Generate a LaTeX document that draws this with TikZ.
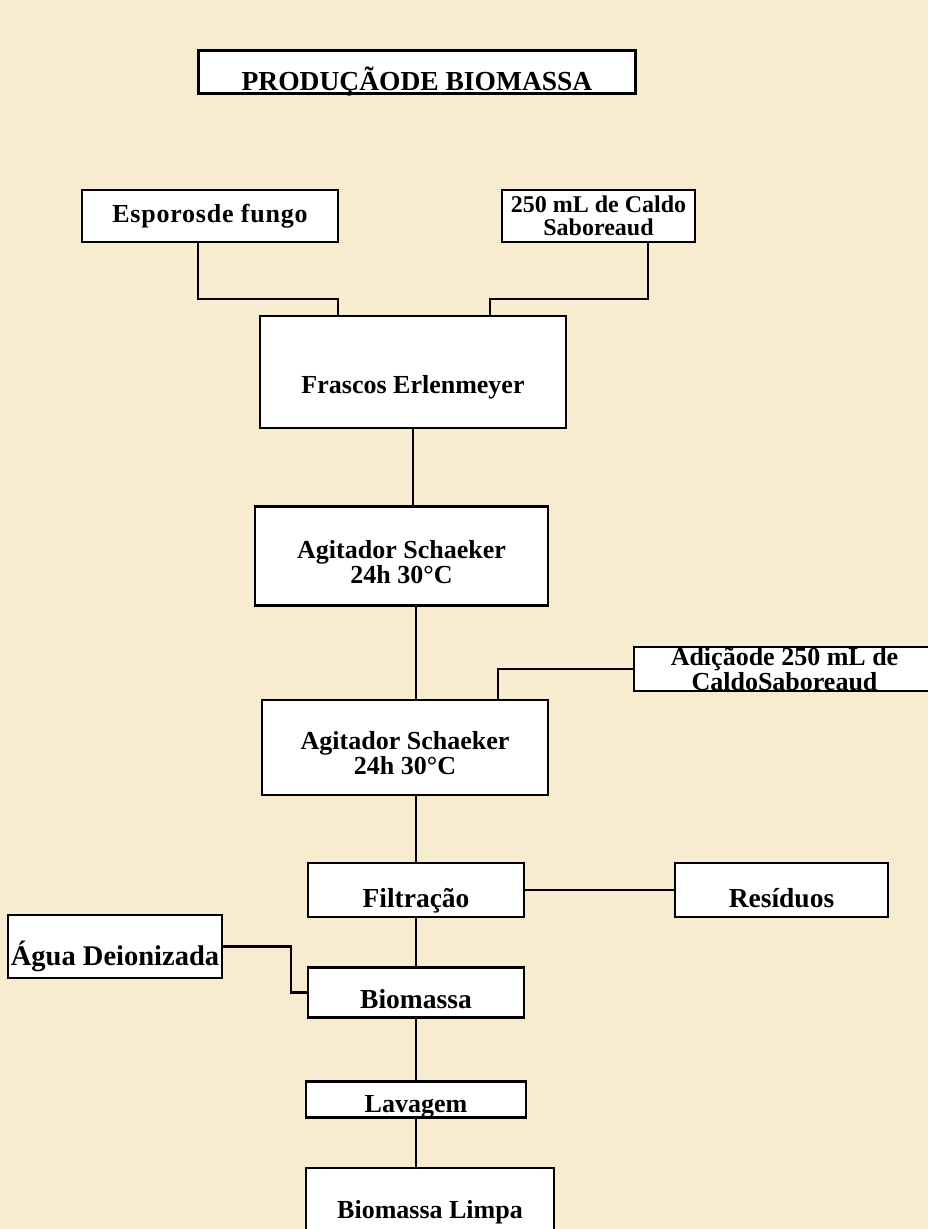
\documentclass[tikz,border=0pt]{standalone}
\usepackage{fontspec}
\setmainfont{Liberation Serif}
\usetikzlibrary{positioning,calc}
\definecolor{parch}{HTML}{F7EBD0}

\begin{document}
\begin{tikzpicture}[x=1pt,y=-1pt,
  box/.style={draw, line width=2.2pt, fill=white, inner sep=0pt, align=center,
    font=\fontsize{26}{25}\selectfont\bfseries},
  big/.style={font=\fontsize{27.5}{26}\selectfont\bfseries},
  drop/.style={text height=#1, text depth=0pt},
  link/.style={line width=2.2pt}
]
  \useasboundingbox (0,0) rectangle (928,1229);
  \fill[parch] (0,0) rectangle (928,1229);

  % title
  \node[box, big, drop=36pt, minimum width=437, minimum height=43] (tit) at (417,72) {PRODUÇÃODE BIOMASSA};

  % inputs
  \node[box, font=\fontsize{26}{25}\selectfont\bfseries\addfontfeature{LetterSpace=3},
    minimum width=256, minimum height=52] (esp) at (210,216) {Esporosde fungo};
  \node[box, font=\fontsize{24}{23}\selectfont\bfseries, minimum width=193, minimum height=52] (cal) at (598.5,216) {250 mL de Caldo\\Saboreaud};

  % main line
  \node[box, drop=43pt, minimum width=306, minimum height=112] (fra) at (413,372) {Frascos Erlenmeyer};
  \node[box, minimum width=293, minimum height=99] (ag1) at (401.5,556) {\rule{0pt}{30pt}Agitador Schaeker\\24h 30°C};
  \node[box, minimum width=286, minimum height=95] (ag2) at (405,747.5) {\rule{0pt}{30pt}Agitador Schaeker\\24h 30°C};
  \node[box, minimum width=301, minimum height=42] (add) at (784.5,669) {Adiçãode 250 mL de\\CaldoSaboreaud};
  \node[box, big, drop=34pt, minimum width=216, minimum height=54] (fil) at (416,890) {Filtração};
  \node[box, big, drop=34pt, minimum width=213, minimum height=54] (res) at (781.5,890) {Resíduos};
  \node[box, font=\fontsize{28.5}{27}\selectfont\bfseries, drop=37pt, minimum width=214, minimum height=63] (agua) at (115,946.5) {Água Deionizada};
  \node[box, big, drop=31pt, minimum width=216, minimum height=50] (bio) at (416,992.5) {Biomassa};
  \node[box, drop=26pt, minimum width=220, minimum height=36] (lav) at (416,1099.5) {Lavagem};
  \node[box, drop=27pt, minimum width=248, minimum height=74] (lim) at (430,1205) {Biomassa Limpa};

  % connectors
  \draw[link] ([xshift=-12pt]esp.south) -- ++(0,56) -| ([xshift=-75pt]fra.north);
  \draw[link] ([xshift=49.5pt]cal.south) -- ++(0,56) -| ([xshift=77pt]fra.north);
  \draw[link] (fra.south) -- (fra.south |- ag1.north);
  \draw[link] (ag1.south -| fil) -- (ag2.north -| fil);
  \draw[link] (add.west) -| ([xshift=93pt]ag2.north);
  \draw[link] (ag2.south -| fil) -- (fil.north);
  \draw[link] (fil.east) -- (res.west);
  \draw[link] (fil.south) -- (bio.north);
  \draw[link] (agua.east) -- ++(68,0) |- (bio.west);
  \draw[link] (bio.south) -- (lav.north);
  \draw[link] (lav.south) -- (lim.north -| lav);
\end{tikzpicture}
\end{document}
